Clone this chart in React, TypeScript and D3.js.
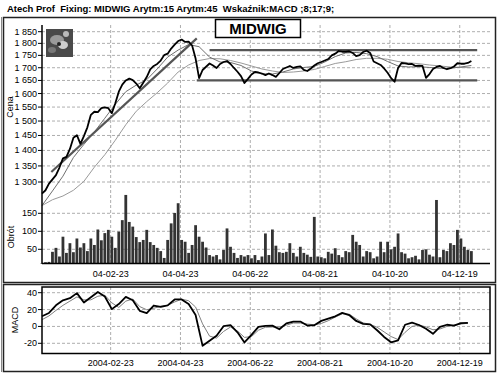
import * as d3 from "d3";

// series start, sampled every N calendar days
const seriesStart = new Date(2003, 11, 26);
const priceStepDays = 3;
const maStepDays = 9;
const macdStepDays = 6;

const close = [
  1265, 1275, 1295, 1308, 1321, 1345, 1374, 1379, 1405, 1442,
  1451, 1422, 1448, 1478, 1522, 1533, 1532, 1546, 1549, 1546,
  1528, 1564, 1607, 1634, 1650, 1657, 1651, 1638, 1620, 1641,
  1663, 1693, 1707, 1715, 1729, 1751, 1757, 1778, 1795, 1810,
  1816, 1806, 1807, 1791, 1737, 1659, 1691, 1704, 1717, 1709,
  1699, 1715, 1723, 1727, 1715, 1699, 1684, 1667, 1640, 1656,
  1673, 1683, 1681, 1677, 1671, 1677, 1671, 1664, 1679, 1695,
  1701, 1707, 1699, 1703, 1705, 1691, 1687, 1697, 1709, 1718,
  1723, 1729, 1735, 1750, 1757, 1768, 1765, 1765, 1767, 1760,
  1747, 1751, 1764, 1769, 1760, 1725, 1718, 1711, 1697, 1680,
  1659, 1645, 1699, 1719, 1717, 1714, 1715, 1707, 1708, 1707,
  1660, 1675, 1695, 1703, 1707, 1699, 1694, 1698, 1705, 1718,
  1716, 1716, 1719, 1727,
];

const volume = [
  12, 14, 15, 43, 54, 30, 85, 40, 67, 42,
  80, 55, 67, 45, 80, 62, 105, 75, 95, 104,
  85, 54, 99, 131, 201, 126, 113, 84, 70, 76,
  104, 70, 62, 54, 45, 26, 76, 122, 151, 178,
  76, 71, 40, 62, 117, 85, 71, 55, 34, 30,
  34, 22, 48, 108, 57, 40, 26, 34, 30, 34,
  25, 34, 20, 30, 94, 34, 105, 60, 42, 40,
  43, 67, 40, 30, 57, 40, 35, 29, 140, 30,
  28, 25, 43, 38, 53, 34, 28, 45, 42, 90,
  71, 62, 30, 45, 42, 25, 30, 71, 42, 71,
  50, 57, 94, 42, 38, 25, 28, 32, 22, 48,
  50, 35, 30, 187, 28, 48, 45, 67, 62, 104,
  80, 57, 48, 45,
];

const ma15 = [
  1230, 1273, 1318, 1377, 1420, 1462, 1510, 1560, 1607, 1632,
  1653, 1695, 1743, 1772, 1795, 1786, 1743, 1723, 1721, 1709,
  1687, 1676, 1675, 1683, 1695, 1701, 1705, 1723, 1745, 1760,
  1762, 1757, 1745, 1725, 1707, 1703, 1704, 1701, 1698, 1698,
  1703, 1709,
];

const ma45 = [
  1230, 1247, 1258, 1275, 1302, 1346, 1386, 1434, 1487, 1535,
  1570, 1603, 1640, 1683, 1711, 1729, 1737, 1736, 1729, 1719,
  1707, 1695, 1687, 1681, 1683, 1687, 1693, 1705, 1717, 1724,
  1733, 1738, 1738, 1734, 1725, 1720, 1716, 1711, 1707, 1703,
  1701, 1700,
];

const macd = [
  12, 16, 25, 31, 33.5, 39.5, 28.3, 34.7, 40.8, 35.5,
  20.5, 26.5, 35, 31, 18.5, 15.9, 24.8, 23.3, 25, 32,
  32, 26.5, 13.5, -23, -17, -11, 0.3, 1.5, -7, -19,
  -10, -0.5, 0.6, 1, -3.3, 3.6, 5.8, 5.8, 1, 1.5,
  6.6, 9.2, 12, 16.1, 13.5, 6.5, 3, 2.5, -4.5, -12.5,
  -18.8, -16.5, 2, 4.6, 1.7, -2.8, -8.7, -0.5, 2, 1,
  4, 4.2,
];

const signal = [
  8, 12.5, 19, 25, 30, 35, 31.5, 31.5, 35.8, 37,
  28, 22.5, 30, 32.5, 23.5, 19.8, 21.5, 24, 25, 29,
  32.3, 30.5, 23, 3, -11.5, -13.8, -6, -0.7, -5.5, -13,
  -12, -4.5, -1, -0.7, -0.7, 1.5, 4, 4, 2.8, 2,
  3.5, 6.8, 11, 15, 14.5, 9, 4.2, 2.5, -1, -6.5,
  -12, -15.5, -7, 0, 1.5, -0.5, -4, -3, 0, 1.5,
  2.8, 3.8,
];

const priceTicks = [1300, 1350, 1400, 1450, 1500, 1550, 1600, 1650, 1700, 1750, 1800, 1850];
const volumeTicks = [50, 100, 150];
const macdTicks = [-20, 0, 20, 40];
const dateTicks = ["2004-02-23", "2004-04-23", "2004-06-22", "2004-08-21", "2004-10-20", "2004-12-19"];

// drawn lines: [date, price]
const trendLine: [string, number][] = [["2004-01-03", 1331], ["2004-05-07", 1821]];
const resistance: [string, number][] = [["2004-05-18", 1772], ["2005-01-03", 1772]];
const support: [string, number][] = [["2004-05-07", 1650], ["2005-01-03", 1650]];

const title = "Atech Prof  Fixing: MIDWIG Arytm:15 Arytm:45  Wskaźnik:MACD ;8;17;9;";
const font = "'Liberation Sans', Arial, sans-serif";

const parse = d3.timeParse("%Y-%m-%d");
const fmtShort = d3.timeFormat("%y-%m-%d");
const fmtLong = d3.timeFormat("%Y-%m-%d");
const fmtPrice = (v: number) => d3.format(",")(v).replace(",", " ");

const datesFor = (n: number, step: number) =>
  d3.range(n).map((i) => d3.timeDay.offset(seriesStart, i * step));

export default function App() {
  const left = 42;
  const right = 490;
  const top1 = 25;
  const bottom1 = 263.5;
  const top2 = 287;
  const bottom2 = 353.5;

  const x = d3.scaleTime().domain([new Date(2003, 11, 26), new Date(2005, 0, 14)]).range([left, right]);
  const yPrice = d3.scaleLog().domain([1300, 1850]).range([182, 31.7]);
  const yVol = d3.scaleLinear().domain([50, 150]).range([249.3, 213.3]);
  const yMacd = d3.scaleLinear().domain([-20, 40]).range([343.3, 292.7]);

  const priceDates = datesFor(close.length, priceStepDays);
  const maDates = datesFor(ma15.length, maStepDays);
  const macdDates = datesFor(macd.length, macdStepDays);

  const priceLine = d3.line<number>((d, i) => x(priceDates[i]), (d) => yPrice(d));
  const maLine = d3.line<number>((d, i) => x(maDates[i]), (d) => yPrice(d));
  const macdLine = d3.line<number>((d, i) => x(macdDates[i]), (d) => yMacd(d));
  const segLine = d3.line<[string, number]>((d) => x(parse(d[0])!), (d) => yPrice(d[1]));

  const tickDates = dateTicks.map((d) => parse(d)!);
  const barW = 2.8;
  const volBase = yVol(10);

  return (
    <svg
      width={500}
      height={374}
      style={{ position: "absolute", left: 0, top: 0, background: "#fff" }}
      fontFamily={font}
    >
      <rect x={0} y={0} width={500} height={374} fill="#fff" />
      <text x={7} y={12} fontSize={9.5} fontWeight="bold" fill="#000" style={{ whiteSpace: "pre" }}>{title}</text>

      {/* panel frames */}
      <rect x={3.5} y={17.5} width={492} height={265} fill="none" stroke="#222" strokeWidth={1.5} />
      <rect x={3.5} y={284.5} width={492} height={87} fill="none" stroke="#222" strokeWidth={1.5} />
      <line x1={1.5} x2={1.5} y1={17} y2={372} stroke="#888" />

      {/* top panel grid */}
      <g stroke="#999" strokeDasharray="3,2" strokeWidth={0.8}>
        {priceTicks.map((t) => (
          <line key={t} x1={left} x2={right} y1={yPrice(t)} y2={yPrice(t)} />
        ))}
        {volumeTicks.map((t) => (
          <line key={"v" + t} x1={left} x2={right} y1={yVol(t)} y2={yVol(t)} />
        ))}
        {tickDates.map((d, i) => (
          <line key={"d" + i} x1={x(d)} x2={x(d)} y1={top1} y2={bottom1} />
        ))}
      </g>

      {/* volume bars */}
      <g fill="#333">
        {volume.map((v, i) => (
          <rect key={i} x={x(priceDates[i]) - barW / 2} y={yVol(v)} width={barW} height={volBase - yVol(v)} />
        ))}
      </g>

      {/* logo */}
      <g>
        <rect x={46} y={29} width={27} height={28} fill="#4a4a4a" />
        <ellipse cx={57} cy={40} rx={7} ry={5} fill="#9a9a9a" />
        <ellipse cx={63} cy={45} rx={5} ry={4} fill="#cfcfcf" />
        <ellipse cx={52} cy={50} rx={4} ry={3} fill="#777" />
        <circle cx={66} cy={34} r={3} fill="#bbb" />
        <circle cx={59} cy={44} r={2} fill="#222" />
      </g>

      {/* moving averages */}
      <path d={maLine(ma45)!} fill="none" stroke="#9a9a9a" strokeWidth={1} />
      <path d={maLine(ma15)!} fill="none" stroke="#707070" strokeWidth={1} />

      {/* drawn trend lines */}
      <g fill="none" stroke="#555" strokeWidth={2.2}>
        <path d={segLine(trendLine)!} />
        <path d={segLine(resistance)!} />
        <path d={segLine(support)!} />
      </g>

      {/* close price */}
      <path d={priceLine(close)!} fill="none" stroke="#000" strokeWidth={1.8} strokeLinejoin="round" />

      {/* top axes */}
      <line x1={left} x2={left} y1={top1} y2={bottom1} stroke="#000" strokeWidth={1.5} />
      <line x1={left} x2={right} y1={bottom1} y2={bottom1} stroke="#000" strokeWidth={1.5} />
      <g fontSize={9} textAnchor="end" fill="#000">
        {priceTicks.map((t) => (
          <g key={t}>
            <line x1={left - 4} x2={left} y1={yPrice(t)} y2={yPrice(t)} stroke="#000" />
            <text x={left - 5} y={yPrice(t) + 3}>{fmtPrice(t)}</text>
          </g>
        ))}
        {volumeTicks.map((t) => (
          <g key={"v" + t}>
            <line x1={left - 4} x2={left} y1={yVol(t)} y2={yVol(t)} stroke="#000" />
            <text x={left - 5} y={yVol(t) + 3}>{t}</text>
          </g>
        ))}
      </g>
      <g fontSize={9} textAnchor="middle" fill="#000">
        {tickDates.map((d, i) => (
          <text key={i} x={x(d)} y={277}>{fmtShort(d)}</text>
        ))}
      </g>
      <text transform="translate(13,107) rotate(-90)" fontSize={9} textAnchor="middle">Cena</text>
      <text transform="translate(14,237) rotate(-90)" fontSize={9} textAnchor="middle">Obrót</text>

      {/* MIDWIG label */}
      <rect x={215.5} y={19.5} width={85} height={18} fill="#fff" stroke="#000" strokeWidth={1.5} />
      <text x={258} y={34} fontSize={15} fontWeight="bold" textAnchor="middle">MIDWIG</text>

      {/* MACD panel */}
      <g stroke="#999" strokeDasharray="3,2" strokeWidth={0.8}>
        {macdTicks.map((t) => (
          <line key={t} x1={left} x2={right} y1={yMacd(t)} y2={yMacd(t)} />
        ))}
        {tickDates.map((d, i) => (
          <line key={"d" + i} x1={x(d)} x2={x(d)} y1={top2} y2={bottom2} />
        ))}
      </g>
      <path d={macdLine(signal)!} fill="none" stroke="#808080" strokeWidth={1} />
      <path d={macdLine(macd)!} fill="none" stroke="#000" strokeWidth={1.8} strokeLinejoin="round" />
      <rect x={left} y={top2} width={right - left} height={bottom2 - top2} fill="none" stroke="#000" strokeWidth={1.5} />
      <g fontSize={9} textAnchor="end" fill="#000">
        {macdTicks.map((t) => (
          <g key={t}>
            <line x1={left - 4} x2={left} y1={yMacd(t)} y2={yMacd(t)} stroke="#000" />
            <text x={left - 5} y={yMacd(t) + 3}>{t}</text>
          </g>
        ))}
      </g>
      <g fontSize={9} textAnchor="middle" fill="#000">
        {tickDates.map((d, i) => (
          <text key={i} x={x(d)} y={366}>{fmtLong(d)}</text>
        ))}
      </g>
      <text transform="translate(18,320) rotate(-90)" fontSize={9} textAnchor="middle">MACD</text>
    </svg>
  );
}
